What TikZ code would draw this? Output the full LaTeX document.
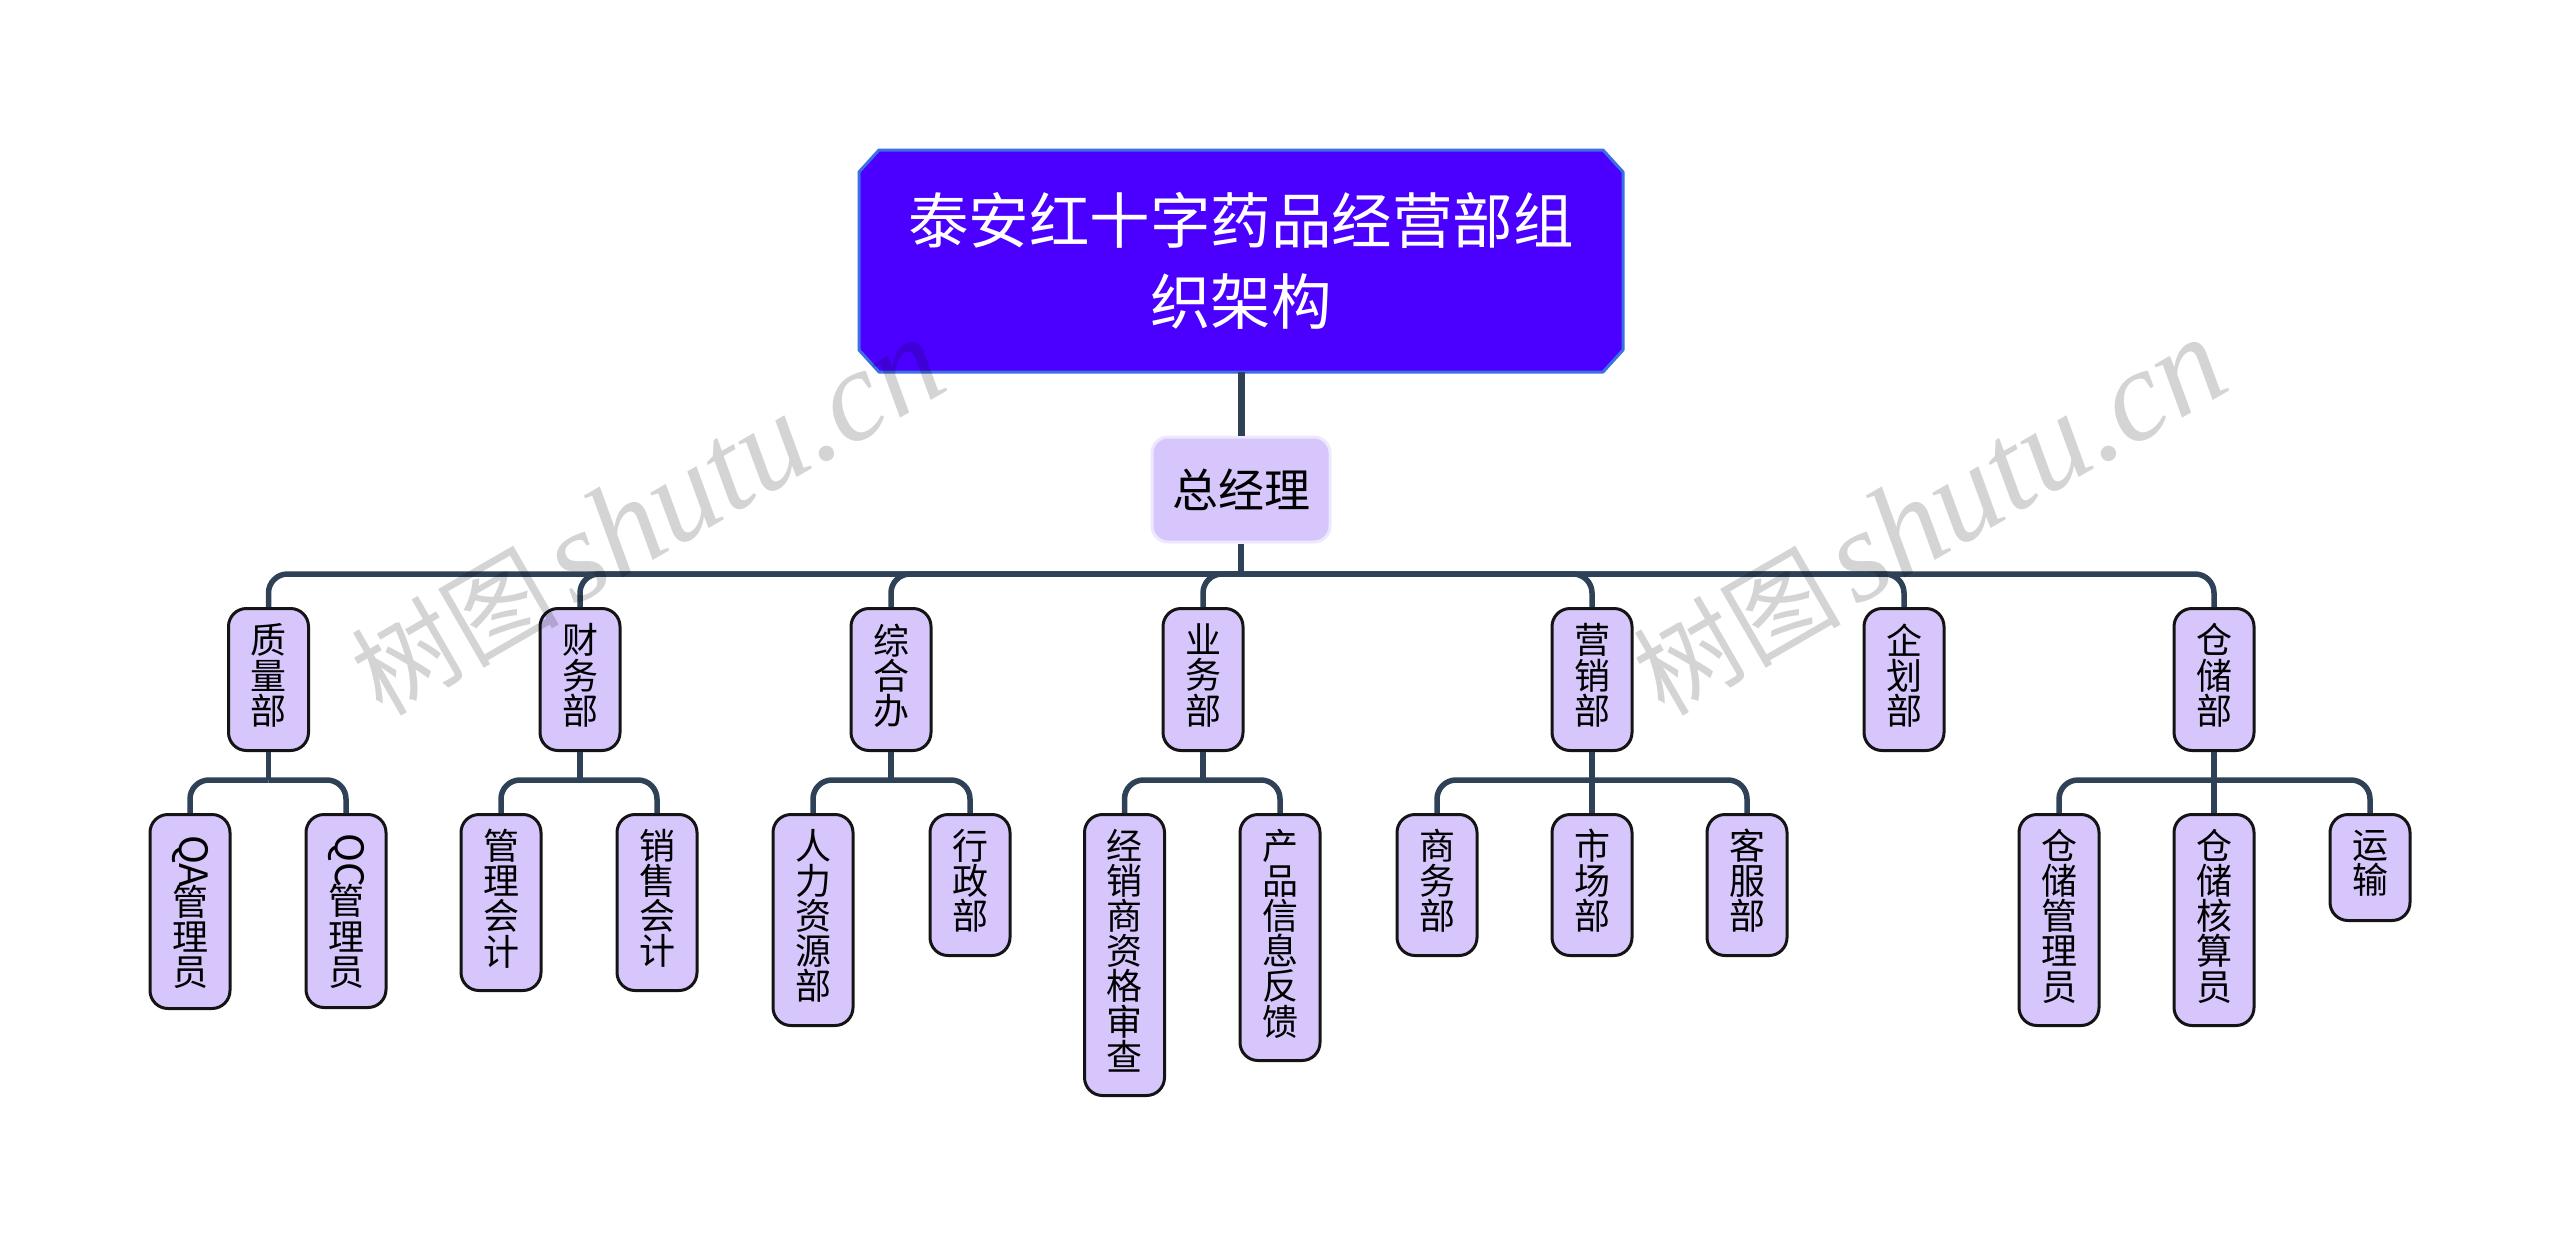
\documentclass[tikz,border=0pt]{standalone}
\usepackage{fontspec}
\usepackage{graphicx}
\newfontfamily\cjk{Noto Sans CJK SC}
\newfontfamily\wmlat{Liberation Serif}
\definecolor{conn}{HTML}{2F4156}
\definecolor{lilac}{HTML}{D6C6FC}
\definecolor{rootfill}{HTML}{4B00FF}
\definecolor{rootedge}{HTML}{3A6FE6}
\definecolor{paleedge}{HTML}{EEE8FF}
\newcommand\rotlat[1]{\raisebox{0pt}[46pt][0pt]{\rotatebox[origin=c]{-90}{\fontsize{39}{39}\selectfont #1}}}
\newcommand\tightlines{\lineskiplimit -100pt\relax}
\tikzset{
  rootshape/.style={draw=rootedge,fill=rootfill,line width=3pt,line join=round},
  roottext/.style={text=white,align=center,inner sep=0pt,minimum width=764pt,minimum height=222pt,
    font=\cjk\fontsize{60.5}{81}\selectfont\tightlines},
  gmbox/.style={rectangle,rounded corners=16pt,draw=paleedge,fill=lilac,line width=3pt,
    inner sep=0pt,minimum width=178pt,minimum height=105pt,font=\cjk\fontsize{46}{46}\selectfont},
  deptbox/.style={rectangle,rounded corners=18pt,draw=black!92,fill=lilac,line width=3pt,
    anchor=north,align=center,inner sep=0pt,minimum width=80pt,
    font=\cjk\fontsize{36}{35.2}\selectfont\tightlines,
    execute at end node={\rule[-11pt]{0pt}{0pt}}},
  trunk/.style={draw=conn,line width=7pt},
  link/.style={draw=conn,line width=5.5pt},
  bendline/.style={draw=conn,line width=5.5pt,rounded corners=19pt},
  wm/.style={rotate=30,text=black,text opacity=0.17,font=\cjk\fontsize{104}{104}\selectfont,inner sep=0pt},
}
\begin{document}
\begin{tikzpicture}[x=1pt,y=-1pt]
\useasboundingbox[fill=white] (0,0) rectangle (2560,1245);
\coordinate (rc) at (1241,261);
\draw[rootshape] ([shift={(-362,-111)}]rc) -- ([shift={(362,-111)}]rc) -- ([shift={(382,-89)}]rc)
  -- ([shift={(382,89)}]rc) -- ([shift={(362,111)}]rc) -- ([shift={(-362,111)}]rc)
  -- ([shift={(-382,89)}]rc) -- ([shift={(-382,-89)}]rc) -- cycle;
\node[roottext] (root) at (rc) {泰安红十字药品经营部组\\织架构};
\node[gmbox] (gm) at (1241,489.5) {总经理};
\coordinate (bus) at (1241,574);
% level one
\node[deptbox,minimum height=142pt] (d1) at (268.5,607) {质\\量\\部};
\node[deptbox,minimum height=142pt] (d2) at (580,607) {财\\务\\部};
\node[deptbox,minimum height=142pt] (d3) at (891,607) {综\\合\\办};
\node[deptbox,minimum height=142pt] (d4) at (1203,607) {业\\务\\部};
\node[deptbox,minimum height=142pt] (d5) at (1592,607) {营\\销\\部};
\node[deptbox,minimum height=142pt] (d6) at (1904,607) {企\\划\\部};
\node[deptbox,minimum height=142pt] (d7) at (2214,607) {仓\\储\\部};
% level two
\node[deptbox,minimum height=194pt] (a1) at (190,813) {\rotlat{QA}\\[8pt]管\\理\\员};
\node[deptbox,minimum height=193pt] (a2) at (346,813) {\rotlat{QC}\\[8pt]管\\理\\员};
\node[deptbox,minimum height=176pt] (b1) at (501,813) {管\\理\\会\\计};
\node[deptbox,minimum height=176pt] (b2) at (657,813) {销\\售\\会\\计};
\node[deptbox,minimum height=211pt] (c1) at (813,813) {人\\力\\资\\源\\部};
\node[deptbox,minimum height=141pt] (c2) at (970,813) {行\\政\\部};
\node[deptbox,minimum height=281pt] (e1) at (1124.5,813) {经\\销\\商\\资\\格\\审\\查};
\node[deptbox,minimum height=246pt] (e2) at (1280,813) {产\\品\\信\\息\\反\\馈};
\node[deptbox,minimum height=141pt] (f1) at (1437,813) {商\\务\\部};
\node[deptbox,minimum height=141pt] (f2) at (1592,813) {市\\场\\部};
\node[deptbox,minimum height=141pt] (f3) at (1747,813) {客\\服\\部};
\node[deptbox,minimum height=211pt] (g1) at (2059,813) {仓\\储\\管\\理\\员};
\node[deptbox,minimum height=211pt] (g2) at (2214,813) {仓\\储\\核\\算\\员};
\node[deptbox,minimum height=106pt] (g3) at (2370,813) {运\\输};
% sub-bus junctions
\coordinate (j1) at (268.5,780);
\coordinate (j2) at (580,780);
\coordinate (j3) at (891,780);
\coordinate (j4) at (1203,780);
\coordinate (j5) at (1592,780);
\coordinate (j7) at (2214,780);
% connectors
\draw[trunk] (root.south) -- (gm.north);
\draw[link] (gm.south) -- (bus);
\foreach \c in {d1,d2,d3,d4,d5,d6,d7} \draw[bendline] (bus) -| (\c.north);
\draw[link] (d1.south) -- (j1);
\draw[link] (d2.south) -- (j2);
\draw[link] (d3.south) -- (j3);
\draw[link] (d4.south) -- (j4);
\draw[link] (d5.south) -- (f2.north);
\draw[link] (d7.south) -- (g2.north);
\draw[bendline] (j1) -| (a1.north);
\draw[bendline] (j1) -| (a2.north);
\draw[bendline] (j2) -| (b1.north);
\draw[bendline] (j2) -| (b2.north);
\draw[bendline] (j3) -| (c1.north);
\draw[bendline] (j3) -| (c2.north);
\draw[bendline] (j4) -| (e1.north);
\draw[bendline] (j4) -| (e2.north);
\draw[bendline] (j5) -| (f1.north);
\draw[bendline] (j5) -| (f3.north);
\draw[bendline] (j7) -| (g1.north);
\draw[bendline] (j7) -| (g3.north);
% watermarks
\node[wm] (w1) at (647,517) {树图\hspace{14pt}{\wmlat\itshape\fontsize{130}{130}\selectfont shutu.cn}};
\node[wm] (w2) at (1929,517) {树图\hspace{14pt}{\wmlat\itshape\fontsize{130}{130}\selectfont shutu.cn}};
\end{tikzpicture}
\end{document}
